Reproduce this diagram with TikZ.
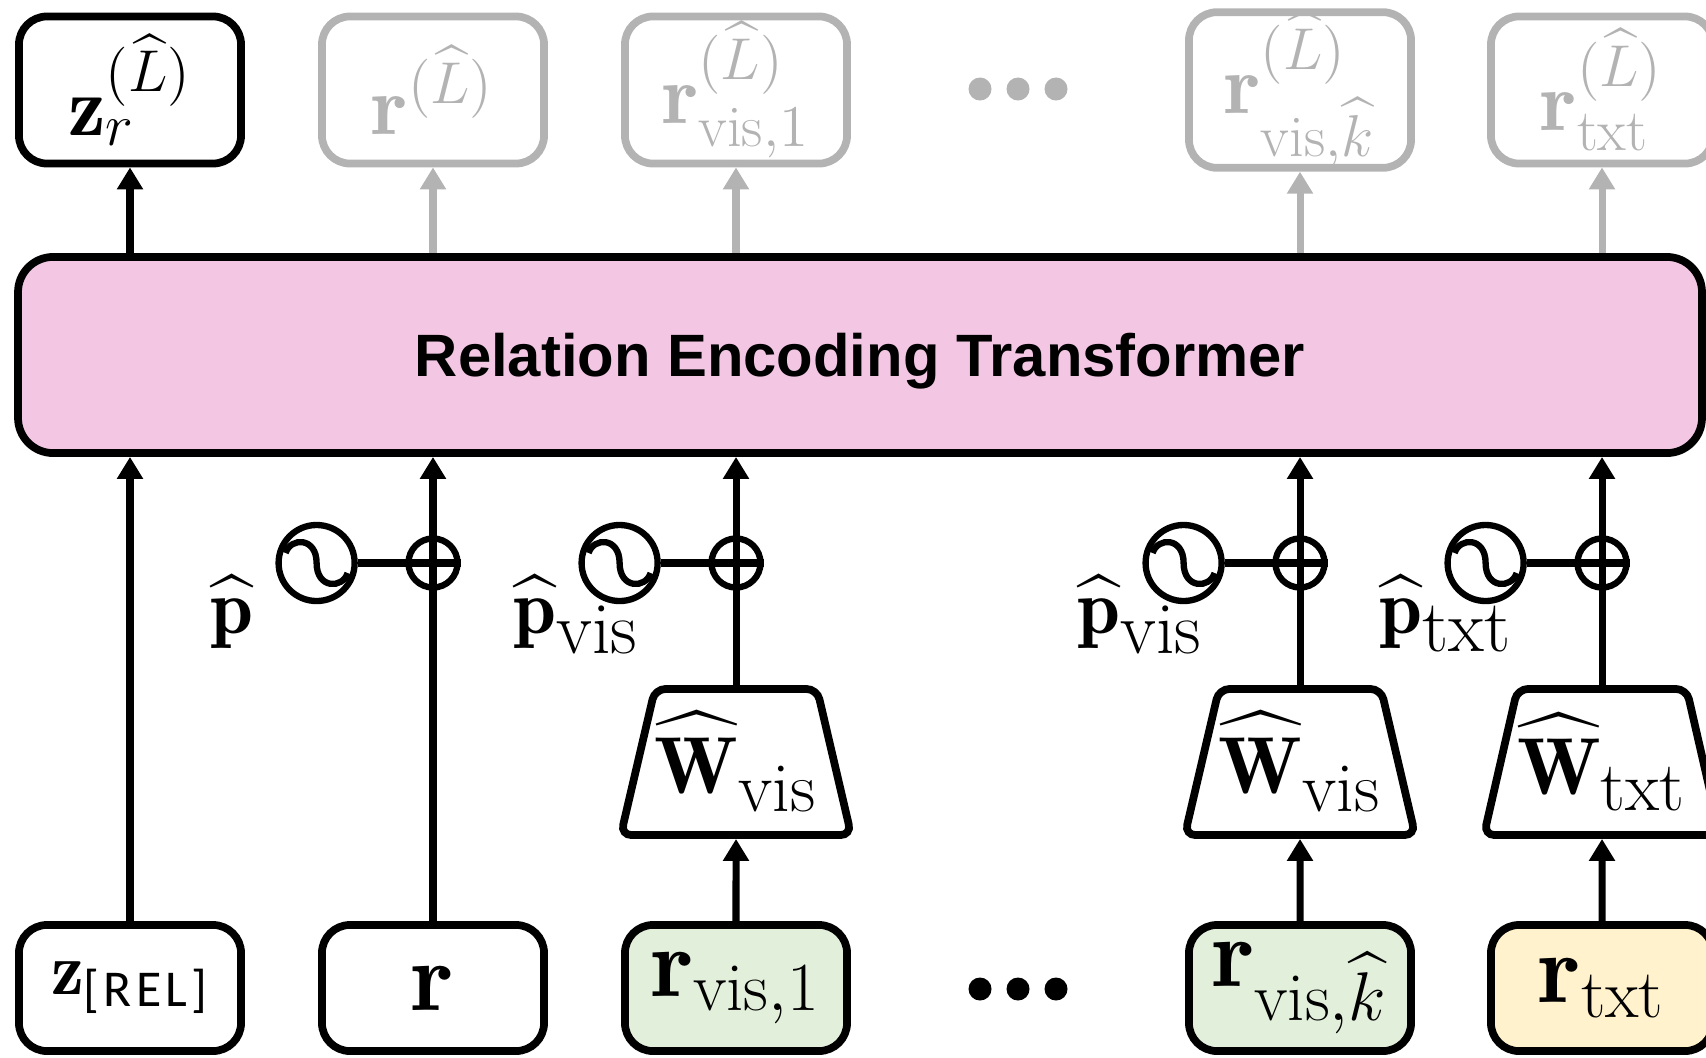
\RequirePackage{fix-cm}
\documentclass[tikz,border=0pt]{standalone}
\usepackage{amsmath,amssymb}
\usepackage{fontspec}
\usepackage{xcolor}
\usepackage{tikz}
\usetikzlibrary{positioning, arrows.meta, shapes.geometric, calc}

\newfontfamily\titlefont{Liberation Sans}
\newfontfamily\relfont[LetterSpace=8]{Carlito}
\DeclareMathSizes{22}{22}{21}{14}
\DeclareMathSizes{23}{23}{20}{14}

\definecolor{encpink}{HTML}{F3C7E4}
\definecolor{visgreen}{HTML}{E2EFDA}
\definecolor{txtyellow}{HTML}{FFF2CC}
\definecolor{ghostgray}{HTML}{B3B3B3}

\tikzset{
  tok/.style={draw, line width=2.2pt, rounded corners=8pt, minimum width=2.22cm, inner sep=0pt},
  outtok/.style={tok, minimum height=1.47cm, font=\fontsize{24}{28}\selectfont},
  intok/.style={tok, minimum height=1.26cm, font=\fontsize{28}{32}\selectfont},
  ghost/.style={draw=ghostgray, text=ghostgray},
  enc/.style={draw, fill=encpink, line width=2.2pt, rounded corners=10pt, minimum width=16.83cm, minimum height=1.96cm, text depth=0pt, font=\fontsize{17}{20}\selectfont\titlefont\bfseries},
  proj/.style={trapezium, trapezium stretches=true, trapezium angle=71, draw, line width=2.2pt, rounded corners=3pt, minimum width=2.31cm, minimum height=1.46cm, inner sep=0pt, font=\fontsize{23}{26}\selectfont},
  addop/.style={circle, draw, line width=1.8pt, minimum size=0.49cm, inner sep=0pt},
  posenc/.style={circle, draw, line width=1.8pt, minimum size=0.76cm, inner sep=0pt},
  link/.style={line width=2pt},
  wave/.style={line width=1.8pt},
  plab/.style={anchor=base west, inner sep=0pt, font=\fontsize{22}{26}\selectfont},
  flow/.style={line width=2pt, -{Triangle[width=0.25cm, length=0.22cm]}},
}

\begin{document}
\begin{tikzpicture}[x=0.01cm, y=-0.01cm]
\useasboundingbox (0,0) rectangle (1706,1057);

% 上段
\node[outtok] (zout) at (130,90) {$\mathbf{z}_r^{(\widehat{L})}$};
\node[outtok, ghost] (rout) at (433,90) {$\mathbf{r}^{(\widehat{L})}$};
\node[outtok, ghost] (vout1) at (736,90) {$\mathbf{r}_{\mathrm{vis},1}^{(\widehat{L})}$};
\node[outtok, ghost] (voutk) at (1300,90) {$\mathbf{r}_{\mathrm{vis},\widehat{k}}^{(\widehat{L})}$};
\node[outtok, ghost] (tout) at (1602,90) {$\mathbf{r}_{\mathrm{txt}}^{(\widehat{L})}$};
\foreach \x in {980,1018,1056} \fill[ghostgray] (\x,89) circle (0.115cm);

\node[enc] (ret) at (860,355) {Relation Encoding Transformer};

\draw[flow] (ret.north -| zout) -- (zout.south);
\foreach \n in {rout, vout1, voutk, tout}
  \draw[flow, ghostgray] (ret.north -| \n) -- (\n.south);

%下方图形
\node[intok, font=\fontsize{21}{25}\selectfont] (zin) at (130,988) {$\mathbf{z}_{\text{\relfont [REL]}}$};
\node[intok] (rin) at (433,988) {$\mathbf{r}$};
\node[intok, fill=visgreen] (vin1) at (736,988) {$\mathbf{r}_{\mathrm{vis},1}$};
\node[intok, fill=visgreen] (vink) at (1300,988) {$\mathbf{r}_{\mathrm{vis},\widehat{k}}$};
\node[intok, fill=txtyellow] (tin) at (1602,988) {$\mathbf{r}_{\mathrm{txt}}$};
\foreach \x in {980,1018,1056} \fill (\x,989) circle (0.115cm);

\node[proj] (wv1) at (736,762) {$\widehat{\mathbf{W}}_{\mathrm{vis}}$};
\node[proj] (wvk) at (1300,762) {$\widehat{\mathbf{W}}_{\mathrm{vis}}$};
\node[proj] (wt) at (1602,762) {$\widehat{\mathbf{W}}_{\mathrm{txt}}$};

\draw[flow] (zin.north) -- (zin.north |- ret.south);
\draw[flow] (rin.north) -- (rin.north |- ret.south);
\draw[flow] (vin1.north) -- (wv1.south);
\draw[flow] (vink.north) -- (wvk.south);
\draw[flow] (tin.north) -- (wt.south);
\draw[flow] (wv1.north) -- (wv1.north |- ret.south);
\draw[flow] (wvk.north) -- (wvk.north |- ret.south);
\draw[flow] (wt.north) -- (wt.north |- ret.south);

% 位置エンコーディング
\foreach \n/\x/\s in {2/433/{}, 3/736/{\mathrm{vis}}, 4/1300/{\mathrm{vis}}, 5/1602/{\mathrm{txt}}} {
  \node[addop] (add\n) at (\x,563) {};
  \node[posenc, left=0.475cm of add\n] (pe\n) {};
  \draw[link] (pe\n.east) -- (add\n.east);
  \draw[wave] ($(pe\n)+(-31,-10)$) .. controls ($(pe\n)+(-26,-26)$) and ($(pe\n)+(0,-26)$) .. (pe\n.center)
    .. controls ($(pe\n)+(0,26)$) and ($(pe\n)+(26,26)$) .. ($(pe\n)+(31,10)$);
  \node[plab] (p\n) at ($(pe\n)+(-107,70)$) {$\widehat{\mathbf{p}}_{\s}$};
}
\end{tikzpicture}
\end{document}
